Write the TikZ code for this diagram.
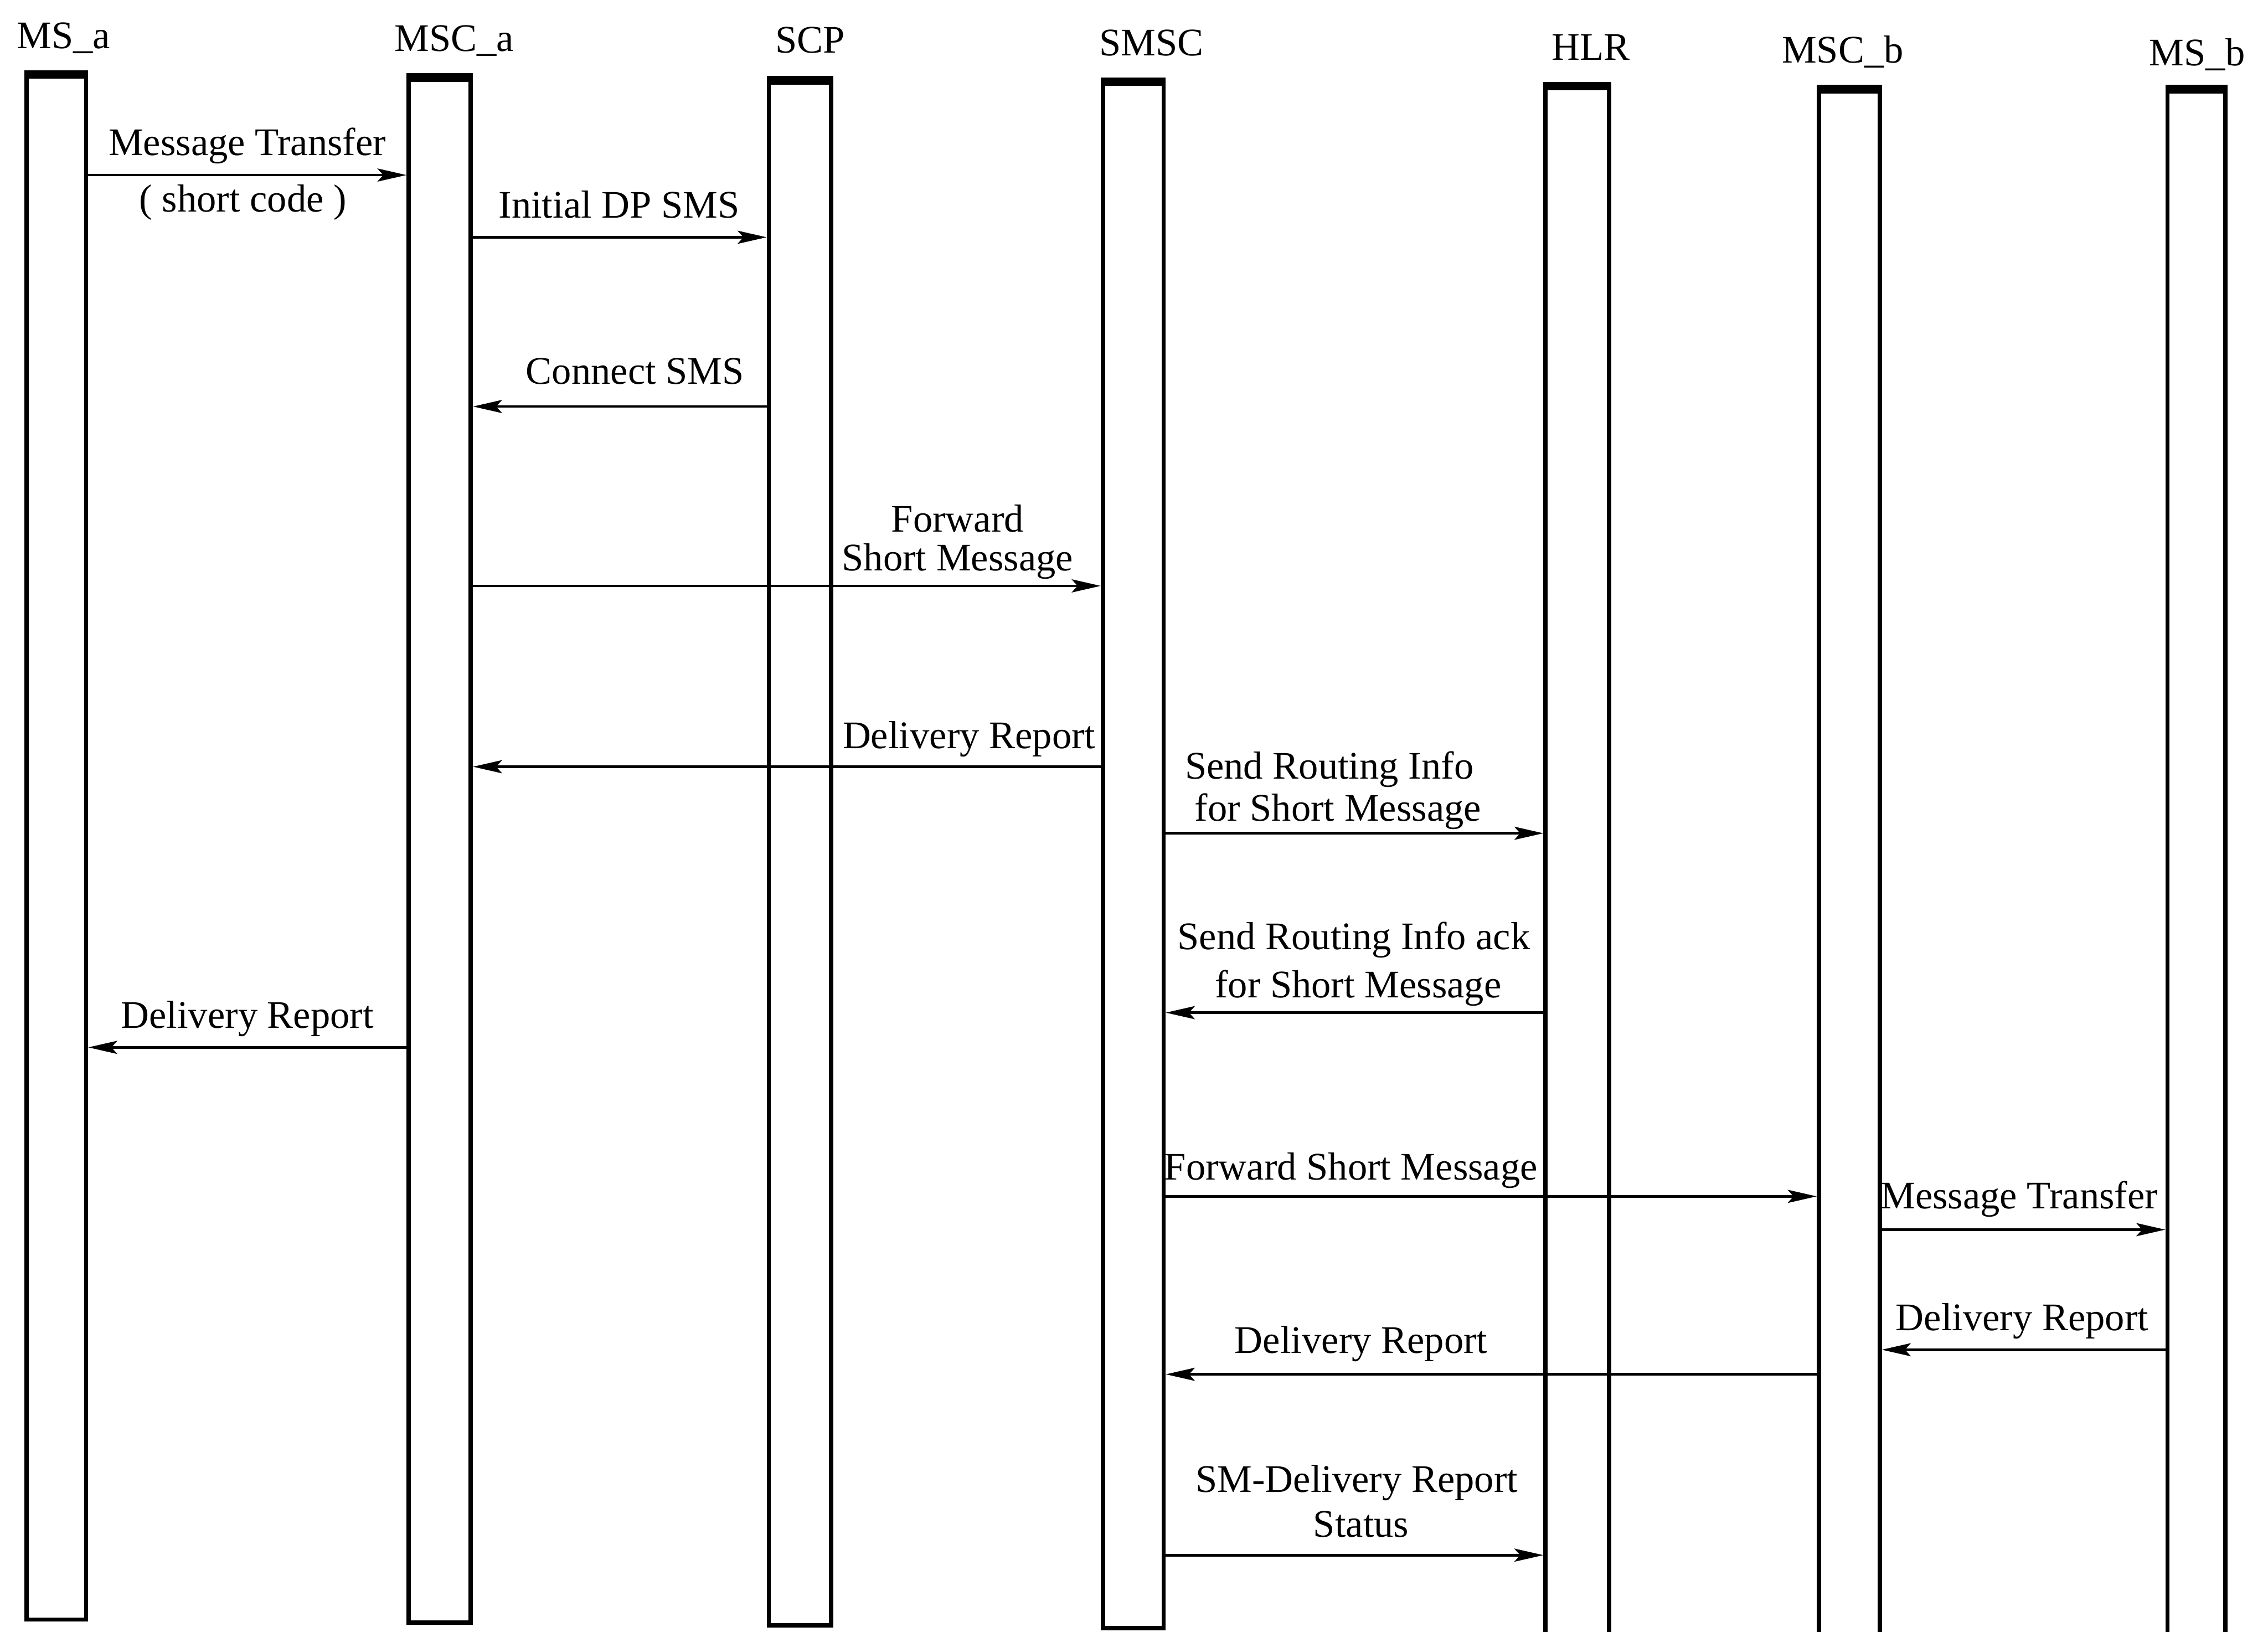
\documentclass[tikz,border=0pt]{standalone}
\usepackage{fontspec}
\setmainfont{Liberation Serif}
\usetikzlibrary{arrows.meta}
\begin{document}
\begin{tikzpicture}[x=1pt,y=-1pt,
  font=\fontsize{27}{30}\selectfont,
  bar/.style={draw, line width=3pt, rectangle, anchor=north west, inner sep=0pt, minimum width=#1},
  msg/.style={line width=1.8pt, -{Stealth[length=20pt,width=9pt,inset=4pt]}},
  lbl/.style={inner sep=0pt, text height=19pt, text depth=6pt},
  hdr/.style={inner sep=0pt, text height=19pt, text depth=6pt}]
\useasboundingbox (0,0) rectangle (1568,1128);
% bars
\node[bar=41pt, minimum height=1068pt] (msa)  at (17,50) {};
\node[bar=43pt, minimum height=1068pt] (msca) at (281,52) {};
\node[bar=43pt, minimum height=1068pt] (scp)  at (530,54) {};
\node[bar=42pt, minimum height=1069pt] (smsc) at (761,55) {};
\node[bar=44pt, minimum height=1070pt] (hlr)  at (1067,58) {};
\node[bar=42pt, minimum height=1070pt] (mscb) at (1256,60) {};
\node[bar=40pt, minimum height=1070pt] (msb)  at (1497,60) {};
\foreach \b in {msa,msca,scp,smsc,hlr,mscb,msb}{
  \draw[line width=6pt] ([yshift=-1.5pt]\b.north west) -- ([yshift=-1.5pt]\b.north east);
}
% headers
\node[hdr] (hmsa)  at (44,27)   {MS\_a};
\node[hdr] (hmsca) at (314,29)  {MSC\_a};
\node[hdr] (hscp)  at (560,30)  {SCP};
\node[hdr] (hsmsc) at (796,32)  {SMSC};
\node[hdr] (hhlr)  at (1100,35) {HLR};
\node[hdr] (hmscb) at (1274,37) {MSC\_b};
\node[hdr] (hmsb)  at (1519,39) {MS\_b};
% message levels
\foreach \n/\y in {m1/121,m2/164,m3/281,m4/405,m5/530,m6/576,m7/700,m8/724,m9/827,m10/850,m11/933,m12/950,m13/1075}{
  \coordinate (\n) at (0,\y);
}
\draw[msg] (msa.east |- m1) -- (msca.west |- m1);
\draw[msg] (msca.east |- m2) -- (scp.west |- m2);
\draw[msg] (scp.west |- m3) -- (msca.east |- m3);
\draw[msg] (msca.east |- m4) -- (smsc.west |- m4);
\draw[msg] (smsc.west |- m5) -- (msca.east |- m5);
\draw[msg] (smsc.east |- m6) -- (hlr.west |- m6);
\draw[msg] (hlr.west |- m7) -- (smsc.east |- m7);
\draw[msg] (msca.west |- m8) -- (msa.east |- m8);
\draw[msg] (smsc.east |- m9) -- (mscb.west |- m9);
\draw[msg] (mscb.east |- m10) -- (msb.west |- m10);
\draw[msg] (msb.west |- m11) -- (mscb.east |- m11);
\draw[msg] (mscb.west |- m12) -- (smsc.east |- m12);
\draw[msg] (smsc.east |- m13) -- (hlr.west |- m13);
% labels
\node[lbl] (l1)  at (171,101)  {Message Transfer};
\node[lbl] (l1b) at (168,140)  {( short code )};
\node[lbl] (l2)  at (428,144)  {Initial DP SMS};
\node[lbl] (l3)  at (439,259)  {Connect SMS};
\node[lbl] (l4a) at (662,361)  {Forward};
\node[lbl] (l4b) at (662,388)  {Short Message};
\node[lbl] (l5)  at (670,511)  {Delivery Report};
\node[lbl] (l6a) at (919,532)  {Send Routing Info};
\node[lbl] (l6b) at (925,561)  {for Short Message};
\node[lbl] (l7a) at (936,650)  {Send Routing Info ack};
\node[lbl] (l7b) at (939,683)  {for Short Message};
\node[lbl] (l8)  at (171,704)  {Delivery Report};
\node[lbl] (l9)  at (934,809)  {Forward Short Message};
\node[lbl] (l10) at (1396,829) {Message Transfer};
\node[lbl] (l11) at (1398,913) {Delivery Report};
\node[lbl] (l12) at (941,929)  {Delivery Report};
\node[lbl] (l13a) at (938,1025) {SM-Delivery Report};
\node[lbl] (l13b) at (941,1056) {Status};
\end{tikzpicture}
\end{document}
